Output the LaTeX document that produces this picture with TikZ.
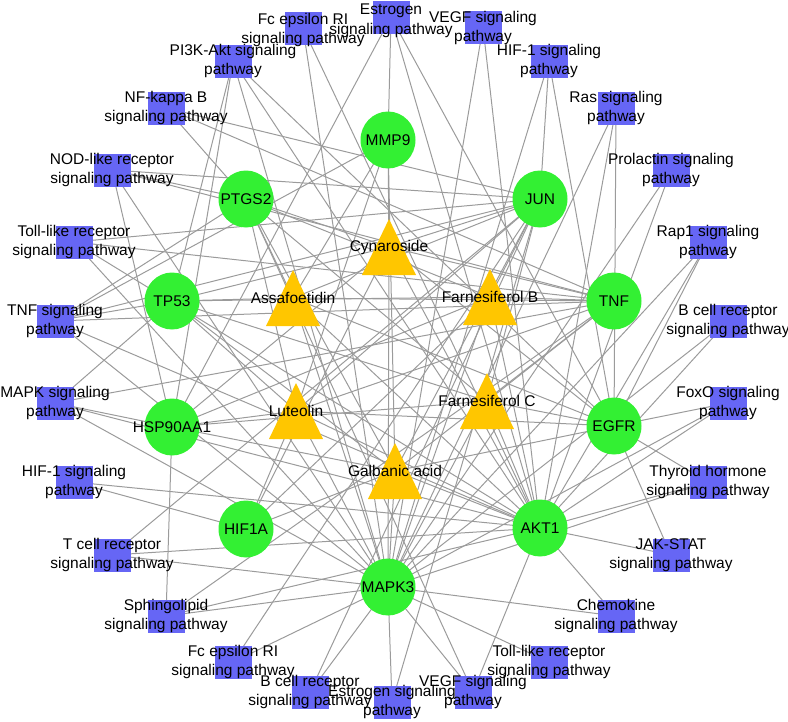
\documentclass[tikz,border=0pt]{standalone}
\usepackage{fontspec}
\setmainfont{Liberation Sans}
\usetikzlibrary{shapes.geometric}
\definecolor{tgreen}{RGB}{51,240,51}
\definecolor{cyellow}{RGB}{255,198,0}
\definecolor{pblue}{RGB}{102,102,245}
\definecolor{egray}{RGB}{155,155,155}
\begin{document}
\begin{tikzpicture}[x=1pt,y=-1pt,
  edge/.style={draw=egray,line width=1pt},
  target/.style={ellipse,fill=tgreen,minimum width=55pt,minimum height=57pt,inner sep=0pt},
  pathbox/.style={rectangle,fill=pblue,minimum width=37pt,minimum height=33pt,inner sep=0pt},
  txt/.style={font=\fontsize{15.5}{19.5}\selectfont,align=center,inner sep=0pt,text=black},
  tri/.style={fill=cyellow}]
\useasboundingbox (0,0) rectangle (788,721);
% targets
\coordinate (MMP9) at (388,140);
\coordinate (JUN) at (540,199);
\coordinate (PTGS2) at (246,199);
\coordinate (TP53) at (172,301);
\coordinate (TNF) at (614,301);
\coordinate (HSP) at (172,427);
\coordinate (EGFR) at (614,426);
\coordinate (HIF) at (246,529);
\coordinate (AKT) at (540,528);
\coordinate (MAPK) at (388,587);
% compounds
\coordinate (Cyn) at (389,247);
\coordinate (Ass) at (293,298);
\coordinate (FB) at (490,297);
\coordinate (Lut) at (296,411);
\coordinate (FC) at (487,401);
\coordinate (Gal) at (395,471);
% pathways
\coordinate (pFc1) at (303,28);
\coordinate (pEs1) at (391,17);
\coordinate (pVE1) at (483,27);
\coordinate (pHI1) at (549,61);
\coordinate (pRas) at (616,108);
\coordinate (pPro) at (671,170);
\coordinate (pRap) at (708,242);
\coordinate (pBc1) at (728,321);
\coordinate (pFox) at (728,403);
\coordinate (pThy) at (708,482);
\coordinate (pJAK) at (671,555);
\coordinate (pChe) at (616,616);
\coordinate (pTo2) at (549,662);
\coordinate (pVE2) at (473,692);
\coordinate (pEs2) at (392,702);
\coordinate (pBc2) at (310,692);
\coordinate (pFc2) at (233,662);
\coordinate (pSph) at (166,616);
\coordinate (pTce) at (112,555);
\coordinate (pHI2) at (74,482);
\coordinate (pMAP) at (55,403);
\coordinate (pTNF) at (55,321);
\coordinate (pTo1) at (74,242);
\coordinate (pNOD) at (112,170);
\coordinate (pNFk) at (166,108);
\coordinate (pPI3) at (233,61);
% pathway-target edges
\foreach \a/\b in {pFc1/MAPK,pFc1/AKT,
  pEs1/MMP9,pEs1/AKT,pEs1/EGFR,pEs1/HSP,
  pVE1/MAPK,pVE1/AKT,
  pHI1/MAPK,pHI1/JUN,pHI1/EGFR,
  pRas/MAPK,pRas/AKT,pRas/EGFR,
  pPro/MAPK,pPro/AKT,
  pRap/EGFR,pRap/AKT,pRap/MAPK,
  pBc1/AKT,pBc1/MAPK,
  pFox/EGFR,pFox/AKT,pFox/MAPK,
  pThy/EGFR,pThy/AKT,pThy/MAPK,
  pJAK/AKT,pJAK/EGFR,
  pChe/AKT,pChe/MAPK,
  pTo2/MAPK,
  pVE2/PTGS2,pVE2/MAPK,pVE2/AKT,
  pEs2/MAPK,pEs2/JUN,
  pBc2/JUN,pBc2/MAPK,
  pFc2/JUN,pFc2/MAPK,
  pSph/MAPK,pSph/AKT,pSph/HSP,pSph/TNF,
  pTce/JUN,pTce/MAPK,pTce/AKT,
  pHI2/HIF,pHI2/AKT,
  pMAP/TNF,pMAP/TP53,pMAP/AKT,pMAP/MAPK,pMAP/HSP,
  pTNF/TP53,pTNF/PTGS2,pTNF/JUN,pTNF/AKT,pTNF/MAPK,pTNF/MMP9,pTNF/TNF,
  pTo1/JUN,pTo1/MAPK,pTo1/AKT,pTo1/TNF,
  pNOD/JUN,pNOD/PTGS2,pNOD/HSP,pNOD/MAPK,pNOD/TNF,
  pNFk/PTGS2,pNFk/JUN,pNFk/TNF,
  pPI3/HSP,pPI3/EGFR,pPI3/AKT,pPI3/MAPK,pPI3/TP53}
  \draw[edge] (\a) -- (\b);
% compound-target edges
\foreach \a/\b in {Cyn/MMP9,Cyn/MAPK,Cyn/PTGS2,Cyn/JUN,Cyn/TNF,Cyn/TP53,Cyn/HSP,Cyn/EGFR,Cyn/AKT,Cyn/HIF,
  Ass/PTGS2,Ass/JUN,Ass/TNF,Ass/TP53,Ass/MMP9,Ass/EGFR,Ass/AKT,Ass/MAPK,
  FB/PTGS2,FB/JUN,FB/TNF,FB/TP53,FB/HSP,FB/AKT,FB/MAPK,FB/HIF,
  Lut/PTGS2,Lut/JUN,Lut/TNF,Lut/TP53,Lut/HSP,Lut/EGFR,Lut/AKT,Lut/MAPK,Lut/HIF,Lut/MMP9,
  FC/PTGS2,FC/JUN,FC/TNF,FC/HSP,FC/EGFR,FC/AKT,FC/MAPK,FC/TP53,
  Gal/MMP9,Gal/JUN,Gal/TNF,Gal/TP53,Gal/HSP,Gal/EGFR,Gal/AKT,Gal/MAPK,Gal/HIF,Gal/PTGS2}
  \draw[edge] (\a) -- (\b);
% pathway squares and labels
\foreach \n/\t/\dy in {pFc1/{Fc epsilon RI\\signaling pathway}/2,
  pEs1/{Estrogen\\signaling pathway}/4,
  pVE1/{VEGF signaling\\pathway}/1,
  pHI1/{HIF-1 signaling\\pathway}/0,
  pRas/{Ras signaling\\pathway}/0,
  pPro/{Prolactin signaling\\pathway}/0,
  pRap/{Rap1 signaling\\pathway}/0,
  pBc1/{B cell receptor\\signaling pathway}/0,
  pFox/{FoxO signaling\\pathway}/0,
  pThy/{Thyroid hormone\\signaling pathway}/0,
  pJAK/{JAK-STAT\\signaling pathway}/0,
  pChe/{Chemokine\\signaling pathway}/0,
  pTo2/{Toll-like receptor\\signaling pathway}/0,
  pVE2/{VEGF signaling\\pathway}/0,
  pEs2/{Estrogen signaling\\pathway}/0,
  pBc2/{B cell receptor\\signaling pathway}/0,
  pFc2/{Fc epsilon RI\\signaling pathway}/0,
  pSph/{Sphingolipid\\signaling pathway}/0,
  pTce/{T cell receptor\\signaling pathway}/0,
  pHI2/{HIF-1 signaling\\pathway}/0,
  pMAP/{MAPK signaling\\pathway}/0,
  pTNF/{TNF signaling\\pathway}/0,
  pTo1/{Toll-like receptor\\signaling pathway}/0,
  pNOD/{NOD-like receptor\\signaling pathway}/0,
  pNFk/{NF-kappa B\\signaling pathway}/0,
  pPI3/{PI3K-Akt signaling\\pathway}/0}
  {\node[pathbox] (\n box) at (\n) {};
   \node[txt] (\n text) at ([yshift=-\dy pt]\n) {\t};}
% target circles
\foreach \n/\t in {MMP9/MMP9,JUN/JUN,PTGS2/PTGS2,TP53/TP53,TNF/TNF,HSP/HSP90AA1,EGFR/EGFR,HIF/HIF1A,AKT/AKT1,MAPK/MAPK3}
  {\node[target] (\n node) at (\n) {};
   \node[txt] (\n text) at (\n) {\t};}
% compound triangles
\foreach \n/\t in {Cyn/Cynaroside,Ass/Assafoetidin,FB/Farnesiferol B,Lut/Luteolin,FC/Farnesiferol C,Gal/Galbanic acid}
  {\fill[tri] (\n) ++(0,-28) -- ++(27,56) -- ++(-54,0) -- cycle;
   \node[txt] (\n text) at (\n) {\t};}
\end{tikzpicture}
\end{document}
